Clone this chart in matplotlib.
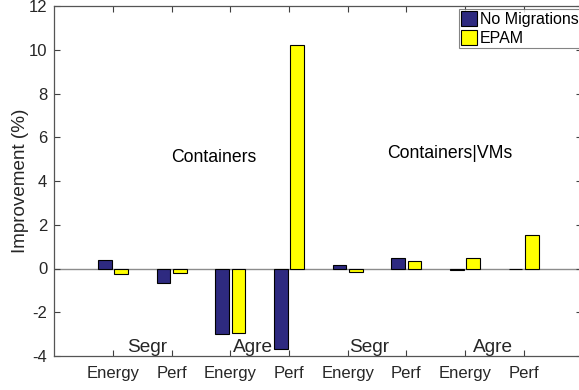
import matplotlib
matplotlib.use("Agg")
import matplotlib.pyplot as plt
import numpy as np

plt.rcParams['font.family'] = ['Liberation Sans', 'DejaVu Sans']

# Metric per bar group (Containers: Segr, Agre; Containers|VMs: Segr, Agre)
categories = ["Energy", "Perf", "Energy", "Perf", "Energy", "Perf", "Energy", "Perf"]
no_migrations = [0.40, -0.68, -2.98, -3.68, 0.18, 0.46, -0.06, -0.02]
epam = [-0.24, -0.20, -2.94, 10.22, -0.17, 0.35, 0.49, 1.55]
series_names = ["No Migrations", "EPAM"]
yticks = [-4, -2, 0, 2, 4, 6, 8, 10, 12]

placement_labels = ["Segr", "Agre", "Segr", "Agre"]
placement_x = [1.234, 3.04, 5.03, 7.13]
setup_labels = ["Containers", "Containers|VMs"]
setup_x = [1.985, 5.665]
setup_y = [4.88, 5.04]

W, H = 579, 390
fig = plt.figure(figsize=(W / 100, H / 100), dpi=100)
ax = fig.add_axes([54.3 / W, 34 / H, 528 / W, 350 / H])

x = np.arange(1, len(categories) + 1)
off, bw = 0.14, 0.235
ax.axhline(0, color='#8c8c8c', lw=1.0, zorder=1)
ax.bar(x - off, no_migrations, bw, color='#2e2a80', edgecolor='black', lw=0.8,
       label=series_names[0], zorder=2)
ax.bar(x + off, epam, bw, color='#ffff00', edgecolor='black', lw=0.8,
       label=series_names[1], zorder=2)

ax.set_xlim(0, 9)
ax.set_ylim(-4, 12)
ax.set_xticks(x)
ax.set_xticklabels(categories)
ax.set_yticks(yticks)
ax.set_yticklabels([str(v) for v in yticks])
ax.tick_params(direction='in', length=4, width=0.8, colors='#404040',
               labelcolor='#262626', labelsize=12, top=True, right=True)
ax.tick_params(axis='x', pad=7)
ax.tick_params(axis='y', pad=5)
for s in ax.spines.values():
    s.set_color('#555555')
    s.set_linewidth(0.9)

ax.set_ylabel("Improvement (%)", fontsize=13.6, color='#262626', labelpad=0)

for lbl, xp in zip(placement_labels, placement_x):
    ax.text(xp, -3.8, lbl, fontsize=13.7, ha='left', va='baseline', color='#262626')
for lbl, xp, yp in zip(setup_labels, setup_x, setup_y):
    ax.text(xp, yp, lbl, fontsize=12.7, ha='left', va='baseline', color='black')

leg = ax.legend(loc='upper left', bbox_to_anchor=((459 - 54.3) / 528, 1 - 2.5 / 350),
                fontsize=11.5, frameon=True, fancybox=False, shadow=False,
                handlelength=1.0, handleheight=1.05, handletextpad=0.15,
                borderpad=0.15, labelspacing=0.2, borderaxespad=0.0)
leg.get_frame().set_edgecolor('#666666')
leg.get_frame().set_linewidth(0.8)

fig.savefig("out.png", dpi=100)
